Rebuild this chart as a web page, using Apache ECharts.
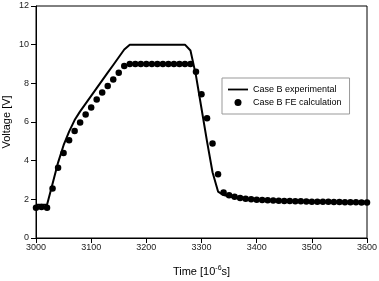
<!DOCTYPE html>
<html>
<head>
<meta charset="utf-8">
<script src="https://cdn.jsdelivr.net/npm/echarts@6/dist/echarts.min.js"></script>
<style>
  html, body { margin: 0; padding: 0; background: #fff; }
  #chart { width: 379px; height: 281px; }
</style>
</head>
<body>
<div id="chart"></div>
<script>
// time in 10^-6 s, voltage in V
const expTime = [3000, 3010, 3020, 3030, 3040, 3050, 3060, 3070, 3080, 3090, 3100, 3110, 3120, 3130, 3140, 3150, 3160, 3170,
  3270, 3280, 3290, 3300, 3310, 3320, 3330, 3340, 3350, 3360, 3370, 3380, 3400, 3450, 3500, 3550, 3600];
const expVolt = [1.72, 1.72, 1.72, 2.8, 3.9, 4.8, 5.5, 6.1, 6.55, 6.95, 7.35, 7.75, 8.15, 8.55, 8.95, 9.35, 9.75, 10.0,
  10.0, 9.7, 8.4, 6.7, 5.0, 3.4, 2.4, 2.22, 2.14, 2.08, 2.04, 2.0, 1.96, 1.91, 1.88, 1.86, 1.85];

const feTime = [];
for (let t = 3000; t <= 3600; t += 10) feTime.push(t);
const feVolt = [1.57, 1.6, 1.57, 2.56, 3.63, 4.4, 5.06, 5.54, 5.98, 6.39, 6.75, 7.17, 7.53, 7.86, 8.2, 8.55, 8.9, 9.0,
  9.0, 9.0, 9.0, 9.0, 9.0, 9.0, 9.0, 9.0, 9.0, 9.0, 9.0, 8.6, 7.43, 6.2, 4.89, 3.3, 2.35, 2.21, 2.13, 2.07, 2.03, 2.0,
  1.98, 1.96, 1.95, 1.94, 1.93, 1.92, 1.91, 1.9, 1.9, 1.89, 1.88, 1.88, 1.87, 1.87, 1.86, 1.86, 1.85, 1.85, 1.85, 1.84, 1.84];

const expName = 'Case B experimental';
const feName = 'Case B FE calculation';

const chart = echarts.init(document.getElementById('chart'), null, { renderer: 'canvas' });

const option = {
  animation: false,
  textStyle: { fontFamily: 'Liberation Sans, Arial, sans-serif' },
  grid: {
    left: 36, right: 12, top: 6, bottom: 43,
    outerBoundsMode: 'none',
    containLabel: false,
    show: true, borderColor: '#000', borderWidth: 1
  },
  legend: {
    orient: 'vertical',
    left: 222, top: 78,
    width: 120,
    padding: [7, 8, 7, 6],
    itemGap: 4,
    itemWidth: 20, itemHeight: 7,
    borderColor: '#999', borderWidth: 1,
    textStyle: { fontSize: 9, color: '#000' },
    data: [
      // thin bar centred in a 20x7 box
      { name: expName, icon: 'path://M0,0 L0,0 M0,2.6 L20,2.6 L20,4.4 L0,4.4 Z M20,7 L20,7', itemStyle: { borderWidth: 0 } },
      { name: feName, icon: 'circle', itemStyle: { opacity: 1 } }
    ]
  },
  xAxis: {
    type: 'value',
    min: 3000, max: 3600, interval: 100,
    name: '{a|Time [10}{sup|-6}{a|s]}',
    nameLocation: 'middle',
    nameGap: 27,
    nameMoveOverlap: false,
    nameTextStyle: {
      rich: {
        a: { fontSize: 11, color: '#000' },
        sup: { fontSize: 7, color: '#000', verticalAlign: 'top', padding: [0, 0, 6, 0] }
      }
    },
    axisLine: { lineStyle: { color: '#000', width: 1 } },
    axisTick: { inside: false, length: 5, lineStyle: { color: '#000' } },
    axisLabel: { fontSize: 9, color: '#222', margin: 5, formatter: v => String(v) },
    splitLine: { show: false }
  },
  yAxis: {
    type: 'value',
    min: 0, max: 12, interval: 2,
    name: 'Voltage [V]',
    nameLocation: 'middle',
    nameGap: 24,
    nameMoveOverlap: false,
    nameTextStyle: { fontSize: 11, color: '#000' },
    axisLine: { show: true, lineStyle: { color: '#000', width: 1 } },
    axisTick: { show: true, inside: false, length: 5, lineStyle: { color: '#000' } },
    axisLabel: { fontSize: 9, color: '#222', margin: 7 },
    splitLine: { show: false }
  },
  series: [
    {
      name: expName,
      type: 'line',
      data: expTime.map((t, i) => [t, expVolt[i]]),
      symbol: 'none',
      lineStyle: { color: '#000', width: 2 },
      itemStyle: { color: '#000' }
    },
    {
      name: feName,
      type: 'scatter',
      data: feTime.map((t, i) => [t, feVolt[i]]),
      symbol: 'circle',
      symbolSize: 6.5,
      itemStyle: { color: '#000', opacity: 1 }
    }
  ]
};

chart.setOption(option);
</script>
</body>
</html>
